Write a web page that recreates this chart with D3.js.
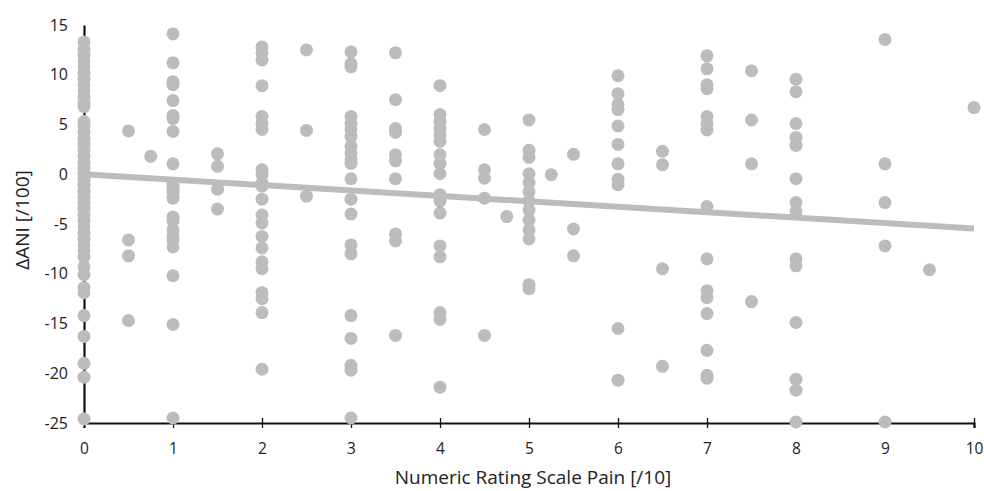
<!DOCTYPE html>
<html>
<head>
<meta charset="utf-8">
<script src="https://d3js.org/d3.v7.min.js"></script>
<style>
  body { margin: 0; background: #fff; }
  text { font-family: "Open Sans", "Noto Sans", sans-serif; fill: #222; }
</style>
</head>
<body>
<div id="chart"></div>
<script>
// pain score (x) -> list of delta ANI values (y)
var painLevels = [0, 0.5, 0.75, 1, 1.5, 2, 2.5, 3, 3.5, 4, 4.5, 4.75, 5, 5.25, 5.5, 6, 6.5, 7, 7.5, 8, 9, 9.5, 10];
var deltaAni = [
  [13.3, 12.6, 12.0, 11.4, 10.8, 10.2, 9.6, 9.0, 8.4, 7.8, 7.2, 6.8, 5.3, 4.8, 4.2, 3.6, 3.0, 2.4, 1.8, 1.2, 0.6, 0.1,
   -0.5, -1.1, -1.7, -2.3, -2.9, -3.5, -4.1, -4.7, -5.3, -5.9, -6.5, -7.1, -7.7, -8.3, -9.3, -10.1, -11.4, -11.9,
   -14.2, -16.3, -19.0, -20.4, -24.6],
  [4.35, -6.6, -8.2, -14.7],
  [1.8],
  [14.1, 11.2, 9.3, 9.0, 7.4, 5.9, 5.6, 4.3, 1.05, -1.0, -1.4, -1.8, -2.4, -4.3, -4.7, -5.6, -6.2, -6.6, -7.3, -10.2, -15.1, -24.5],
  [2.05, 0.8, -1.5, -3.5],
  [12.8, 12.2, 11.5, 8.9, 5.8, 5.1, 4.5, 0.45, -0.05, -0.9, -1.2, -2.5, -4.1, -4.9, -6.25, -7.4, -8.8, -9.5, -11.9, -12.5, -13.9, -19.6],
  [12.5, 4.4, -2.2],
  [12.3, 11.1, 10.8, 5.8, 5.1, 4.5, 3.8, 2.8, 2.1, 1.45, 1.1, -0.45, -2.5, -4.0, -7.1, -8.0, -14.2, -16.5, -19.2, -19.7, -24.5],
  [12.2, 7.5, 4.6, 4.2, 1.95, 1.35, -0.45, -6.0, -6.7, -16.2],
  [8.9, 6.0, 5.3, 4.6, 3.95, 3.3, 1.95, 1.1, 0.05, -2.05, -2.7, -3.9, -7.2, -8.3, -13.9, -14.6, -21.4],
  [4.5, 0.45, -0.4, -2.4, -16.2],
  [-4.25],
  [5.45, 2.4, 1.7, 0.05, -0.85, -1.75, -2.7, -3.6, -4.6, -5.6, -6.5, -11.1, -11.5],
  [-0.05],
  [2.0, -5.5, -8.2],
  [9.9, 8.1, 7.0, 6.5, 4.85, 3.0, 1.05, -0.5, -1.05, -15.5, -20.7],
  [2.3, 0.95, -9.5, -19.3],
  [11.9, 10.6, 9.0, 8.6, 5.8, 5.1, 4.45, -3.25, -8.5, -11.7, -12.4, -14.0, -17.7, -20.2, -20.5],
  [10.4, 5.45, 1.05, -12.8],
  [9.55, 8.3, 5.1, 3.7, 2.9, -0.45, -2.85, -3.75, -8.5, -9.2, -14.9, -20.6, -21.7, -24.9],
  [13.55, 1.05, -2.85, -7.2, -24.9],
  [-9.6],
  [6.7]
];
// linear trend line end points
var trendX = [0, 10];
var trendY = [0.0, -5.45];

var xTicks = [0, 1, 2, 3, 4, 5, 6, 7, 8, 9, 10];
var yTicks = [15, 10, 5, 0, -5, -10, -15, -20, -25];

var width = 984, height = 491;
var margin = {left: 84, right: 10, top: 25, bottom: 68};

var points = [];
painLevels.forEach(function(p, i) {
  deltaAni[i].forEach(function(v) { points.push({x: p, y: v}); });
});

var x = d3.scaleLinear().domain([0, 10]).range([margin.left, width - margin.right]);
var y = d3.scaleLinear().domain([-25, 15]).range([height - margin.bottom, margin.top]);

var svg = d3.select("#chart").append("svg")
  .attr("width", width)
  .attr("height", height);

// plain hyphen for negatives, like the original
var fmt = function(d) { return String(d); };

// axes
var xAxis = svg.append("g")
  .attr("transform", "translate(0," + y(-25) + ")")
  .call(d3.axisBottom(x).tickValues(xTicks).tickFormat(fmt).tickSize(5).tickPadding(15));
xAxis.selectAll(".tick line").attr("y1", -5).attr("stroke", "#111").attr("stroke-width", 1.3);
xAxis.select(".domain").attr("stroke", "#111").attr("stroke-width", 2.2);
xAxis.selectAll("text").style("font-size", "15.5px");

var yAxis = svg.append("g")
  .attr("transform", "translate(" + x(0) + ",0)")
  .call(d3.axisLeft(y).tickValues(yTicks).tickFormat(fmt).tickSize(0).tickPadding(16).tickSizeOuter(0));
yAxis.select(".domain").attr("stroke", "#111").attr("stroke-width", 2.2);
yAxis.selectAll("text").style("font-size", "16px");

// dots
svg.append("g").selectAll("circle")
  .data(points)
  .enter().append("circle")
  .attr("cx", function(d) { return x(d.x); })
  .attr("cy", function(d) { return y(d.y); })
  .attr("r", 6.5)
  .style("fill", "#bcbcbc");

// trend line
svg.append("path")
  .datum(trendX.map(function(v, i) { return [v, trendY[i]]; }))
  .attr("d", d3.line().x(function(d) { return x(d[0]); }).y(function(d) { return y(d[1]); }))
  .attr("fill", "none")
  .attr("stroke", "#bcbcbc")
  .attr("stroke-width", 6);

// axis titles
svg.append("text")
  .attr("x", 533).attr("y", 484)
  .attr("text-anchor", "middle")
  .style("font-size", "19px")
  .text("Numeric Rating Scale Pain [/10]");

svg.append("text")
  .attr("transform", "translate(29,220) rotate(-90)")
  .attr("text-anchor", "middle")
  .style("font-size", "19px")
  .text("ΔANI [/100]");
</script>
</body>
</html>
